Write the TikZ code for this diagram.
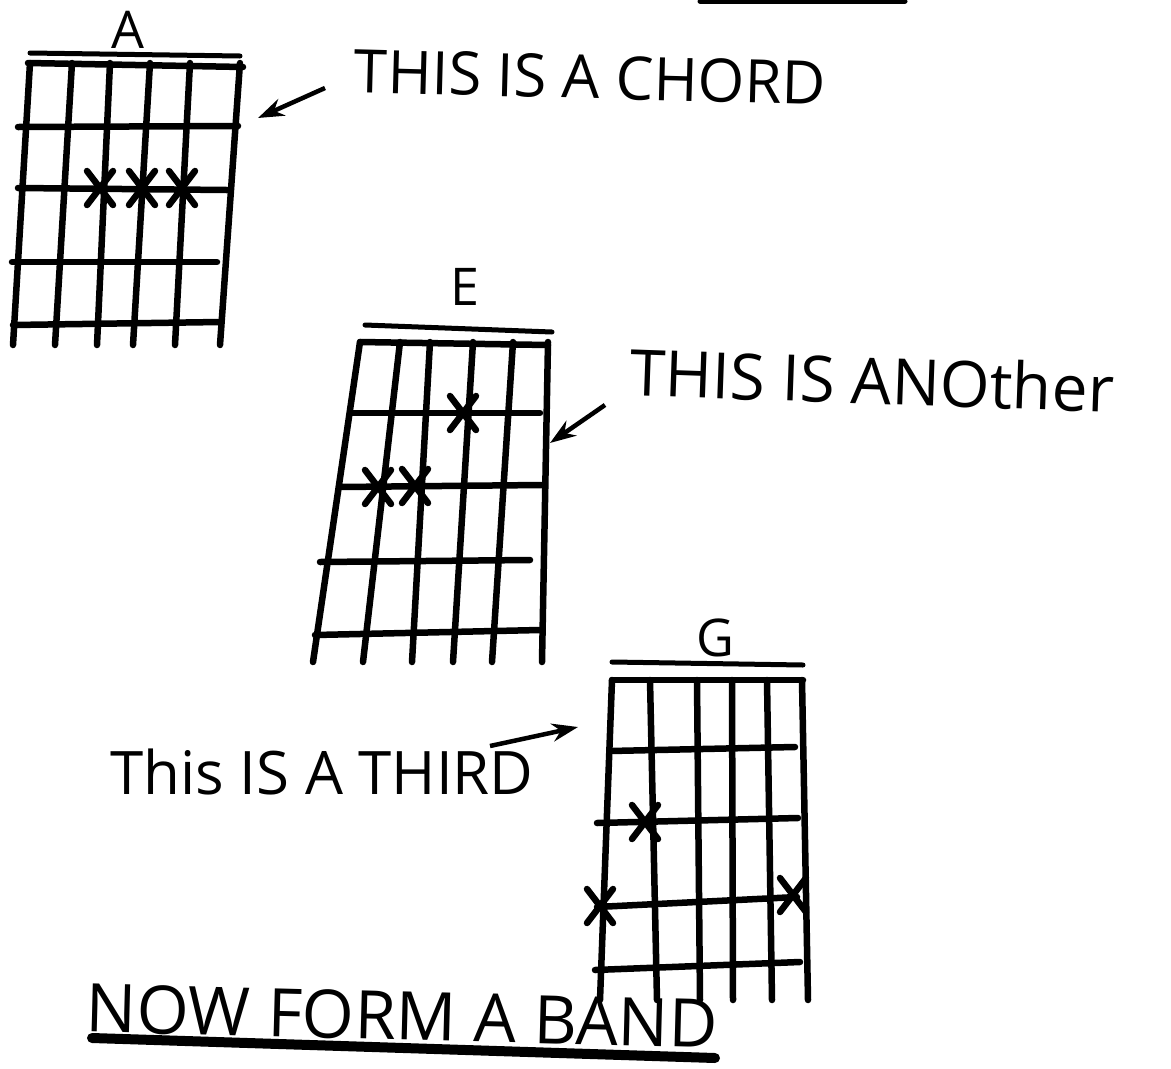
\documentclass[tikz,border=0pt]{standalone}
\usepackage{fontspec}
\setmainfont{Open Sans}
\usepackage{tikz}
\usetikzlibrary{arrows.meta}

\begin{document}
\begin{tikzpicture}[x=1pt,y=-1pt,
    pen/.style={line width=6.5pt,line cap=round,line join=round},
    nutbar/.style={line width=5pt,line cap=round},
    hand/.style={font=\fontsize{60}{72}\selectfont,inner sep=0pt},
    chordname/.style={font=\fontsize{52}{62}\selectfont,inner sep=0pt},
    pointer/.style={line width=4.5pt,-{Stealth[length=26pt,width=18pt]}}]
    \useasboundingbox (0,0) rectangle (1171,1069);

    % Torn line at the top edge
    \draw[nutbar] (700,1) -- (905,1);

    % Chord A
    \node[chordname] (nameA) at (128,30) {A};
    \draw[nutbar] (30,53) -- (240,56);
    \foreach \t/\b in {30/13, 72/55, 110/97, 150/133, 190/175, 240/220}
        \draw[pen] (\t,63) -- (\b,345);
    \foreach \l/\yl/\r/\yr in {28/63/243/67, 18/127/238/126, 18/188/227/190, 12/262/217/262, 13/325/220/322}
        \draw[pen] (\l,\yl) -- (\r,\yr);
    \foreach \mx/\my in {100/188, 142/188, 182/188} {
        \draw[pen] (\mx-13,\my-17) -- (\mx+13,\my+17);
        \draw[pen] (\mx-13,\my+17) -- (\mx+13,\my-17);
    }

    % Chord E
    \node[chordname] (nameE) at (465,287) {E};
    \draw[nutbar] (365,325) -- (552,332);
    \foreach \t/\b in {360/313, 400/363, 430/412, 473/453, 513/492, 548/542}
        \draw[pen] (\t,342) -- (\b,662);
    \foreach \l/\yl/\r/\yr in {360/342/548/345, 350/413/540/413, 340/487/542/485, 320/562/530/560, 315/635/540/630}
        \draw[pen] (\l,\yl) -- (\r,\yr);
    \foreach \mx/\my in {463/413, 378/487, 415/486} {
        \draw[pen] (\mx-13,\my-17) -- (\mx+13,\my+17);
        \draw[pen] (\mx-13,\my+17) -- (\mx+13,\my-17);
    }

    % Chord G
    \node[chordname] (nameG) at (715,638) {G};
    \draw[nutbar] (612,662) -- (803,665);
    \foreach \t/\b in {612/600, 650/657, 697/700, 732/733, 767/772, 802/808}
        \draw[pen] (\t,680) -- (\b,1000);
    \foreach \l/\yl/\r/\yr in {612/680/803/680, 610/751/795/747, 597/823/798/818, 597/907/797/897, 595/970/800/962}
        \draw[pen] (\l,\yl) -- (\r,\yr);
    \foreach \mx/\my in {645/822, 600/906, 793/895} {
        \draw[pen] (\mx-13,\my-17) -- (\mx+13,\my+17);
        \draw[pen] (\mx-13,\my+17) -- (\mx+13,\my-17);
    }

    % Captions
    \node[hand,rotate=-1.5] (chordtxt) at (590,77) {THIS IS A CHORD};
    \node[hand,font=\fontsize{64}{76}\selectfont,rotate=-2] (anothertxt) at (872,380) {THIS IS ANOther};
    \node[hand] (thirdtxt) at (322,772) {This IS A THIRD};
    \node[hand,font=\fontsize{67}{80}\selectfont,rotate=-1.5] (bandtxt) at (402,1016) {NOW FORM A BAND};
    \draw[line width=10pt,line cap=round] (92,1038) -- (715,1058);

    % Pointers
    \coordinate (tailA) at (325,88);
    \coordinate (tipA) at (258,118);
    \coordinate (tailE) at (605,405);
    \coordinate (tipE) at (550,443);
    \coordinate (tailG) at (490,746);
    \coordinate (tipG) at (578,727);
    \draw[pointer] (tailA) -- (tipA);
    \draw[pointer] (tailE) -- (tipE);
    \draw[pointer] (tailG) -- (tipG);

\end{tikzpicture}
\end{document}
